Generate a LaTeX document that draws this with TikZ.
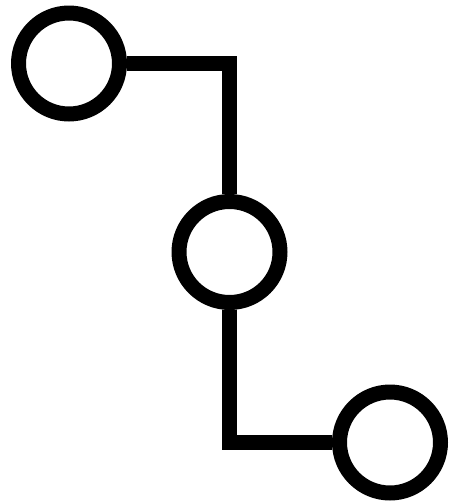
\documentclass[tikz,border=0pt]{standalone}
\usepackage{tikz}
\usetikzlibrary{positioning}

\begin{document}
\begin{tikzpicture}[
    x=0.02cm, y=-0.02cm,
    station/.style={draw, circle, line width=0.3cm, minimum size=2.02cm, inner sep=0pt},
    link/.style={draw, line width=0.3cm, line join=miter}
]
    \useasboundingbox (0,0) rectangle (449,504);
    \node[station] (first) at (69,63.5) {};
    \node[station] (middle) at (229.5,252) {};
    \node[station] (last) at (390,442.5) {};

    % Connectors
    \draw[link] (first.east) -| (middle.north);
    \draw[link] (middle.south) |- (last.west);
\end{tikzpicture}
\end{document}
